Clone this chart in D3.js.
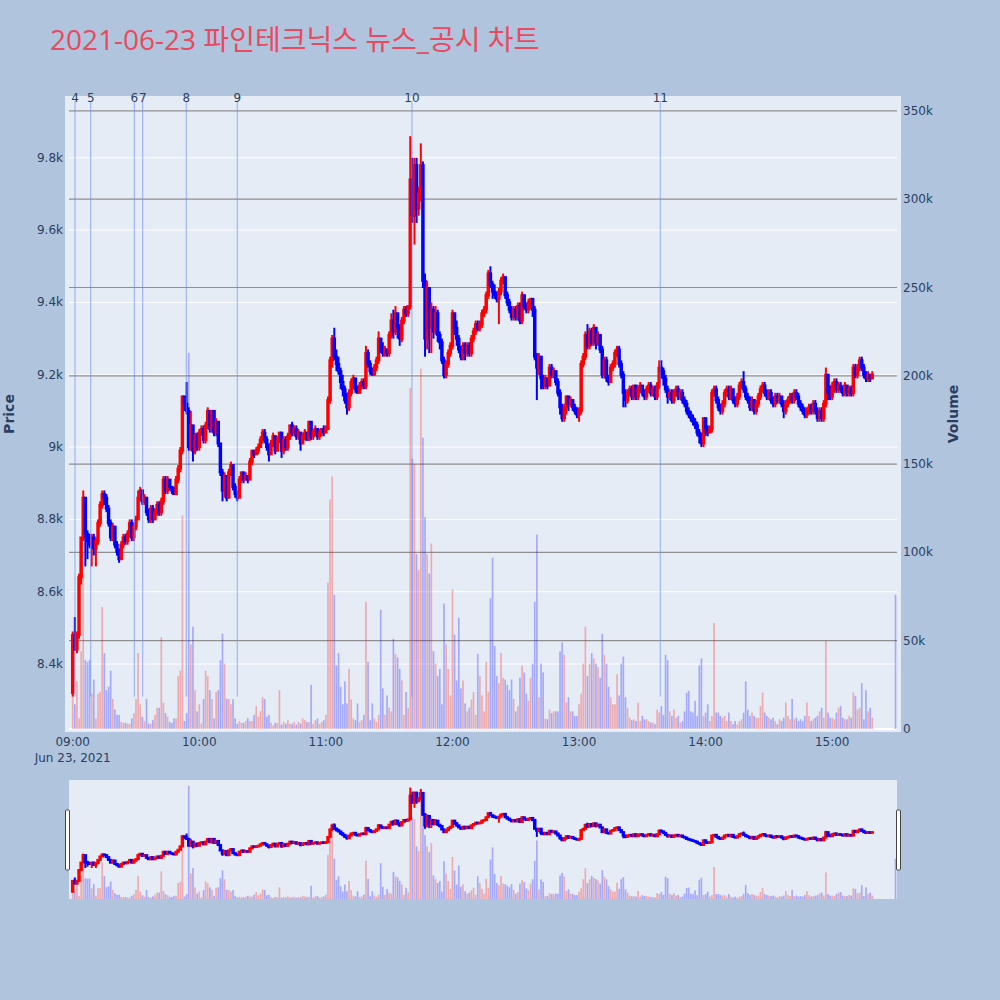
<!DOCTYPE html>
<html><head><meta charset="utf-8">
<script src="https://cdn.jsdelivr.net/npm/d3@7"></script>
<style>body{margin:0;background:#b0c4de;}svg{display:block;}</style>
</head><body>
<svg id="chart" width="1000" height="1000"></svg>
<script>
// ---------------- data ----------------
const title = "2021-06-23 파인테크닉스 뉴스_공시 차트";
const sessionDate = [2021, 5, 23];
// minute offsets from 09:00 (continuous session 09:00-15:19, closing auction 15:30)
const minuteOffsets = d3.range(0, 380).concat([390]);

const openP = [
8320,8480,8440,8480,8640,8750,8860,8760,8740,8730,
8750,8720,8740,8790,8840,8870,8860,8830,8790,8750,
8780,8730,8710,8690,8730,8750,8740,8760,8790,8750,
8780,8800,8860,8880,8850,8860,8820,8800,8830,8800,
8820,8840,8820,8850,8910,8880,8910,8890,8880,8870,
8910,8940,8990,9140,9120,9100,9000,9060,8990,9030,
9000,9040,9050,9020,9060,9100,9050,9100,9040,9070,
9010,8930,8880,8920,8860,8930,8950,8890,8870,8860,
8910,8930,8910,8920,8910,8960,8990,8980,8990,9000,
9020,9040,9020,9000,8980,9010,9030,8990,9020,9040,
8990,9020,9000,9030,9060,9040,9050,9030,9040,9010,
9030,9040,9020,9070,9030,9040,9050,9030,9040,9050,
9040,9050,9130,9240,9300,9250,9230,9210,9180,9160,
9130,9110,9150,9180,9190,9160,9150,9170,9180,9170,
9260,9230,9210,9200,9220,9240,9300,9270,9260,9270,
9260,9310,9350,9320,9370,9330,9300,9350,9380,9370,
9390,9740,9640,9780,9660,9700,9780,9460,9300,9440,
9330,9380,9320,9370,9310,9290,9240,9200,9230,9260,
9280,9370,9330,9300,9270,9250,9280,9260,9280,9260,
9300,9320,9340,9330,9340,9370,9380,9420,9480,9450,
9430,9420,9410,9430,9460,9470,9420,9400,9380,9360,
9380,9360,9390,9350,9420,9390,9380,9400,9410,9380,
9250,9220,9250,9190,9170,9190,9170,9220,9200,9210,
9180,9150,9110,9080,9110,9140,9120,9130,9110,9100,
9090,9100,9230,9250,9310,9280,9320,9290,9330,9290,
9310,9270,9200,9240,9190,9180,9220,9230,9260,9270,
9230,9200,9150,9130,9150,9160,9140,9170,9140,9160,
9170,9150,9140,9160,9170,9150,9160,9140,9170,9220,
9210,9190,9160,9140,9150,9130,9150,9160,9140,9150,
9130,9120,9100,9090,9080,9070,9060,9040,9030,9010,
9080,9050,9040,9050,9150,9160,9130,9110,9100,9120,
9150,9160,9140,9160,9130,9120,9140,9170,9180,9160,
9140,9130,9110,9130,9100,9120,9140,9160,9170,9150,
9140,9150,9130,9120,9140,9130,9140,9120,9100,9120,
9130,9140,9130,9150,9140,9120,9110,9100,9090,9100,
9110,9100,9120,9100,9080,9100,9080,9120,9200,9150,
9140,9170,9180,9160,9170,9160,9150,9170,9150,9160,
9150,9220,9200,9220,9240,9220,9200,9190,9200,9190,
9180];
const highP = [
8490,8530,8490,8650,8750,8880,8860,8770,8760,8760,
8760,8750,8800,8850,8880,8880,8870,8840,8800,8790,
8780,8740,8720,8740,8760,8760,8770,8800,8800,8790,
8810,8880,8890,8880,8870,8860,8830,8840,8840,8830,
8850,8850,8860,8920,8920,8920,8910,8890,8890,8920,
8950,9000,9140,9140,9180,9110,9100,9060,9040,9040,
9050,9060,9060,9070,9110,9100,9100,9100,9080,9070,
9010,8940,8930,8920,8940,8960,8950,8900,8880,8920,
8930,8930,8930,8920,8970,8990,8990,9000,9010,9030,
9050,9050,9030,9010,9020,9040,9030,9030,9040,9040,
9030,9030,9040,9060,9070,9060,9060,9050,9040,9040,
9050,9040,9070,9070,9050,9060,9050,9050,9050,9060,
9060,9140,9250,9310,9330,9270,9250,9220,9200,9170,
9150,9160,9190,9200,9190,9170,9180,9190,9190,9280,
9270,9240,9220,9230,9250,9320,9300,9290,9280,9270,
9320,9370,9380,9390,9370,9340,9360,9390,9390,9390,
9860,9800,9800,9800,9720,9840,9790,9480,9460,9440,
9400,9390,9390,9380,9320,9300,9250,9240,9270,9290,
9380,9370,9350,9310,9280,9290,9290,9290,9290,9310,
9330,9350,9350,9350,9380,9390,9430,9490,9500,9460,
9450,9430,9440,9470,9480,9470,9430,9410,9390,9390,
9390,9400,9400,9430,9420,9400,9410,9410,9410,9390,
9260,9260,9250,9200,9200,9190,9230,9230,9220,9210,
9190,9160,9120,9120,9140,9140,9140,9130,9120,9110,
9110,9240,9260,9320,9340,9330,9330,9340,9330,9320,
9310,9280,9250,9250,9200,9230,9240,9270,9280,9280,
9240,9210,9160,9160,9170,9170,9170,9170,9170,9180,
9170,9160,9170,9180,9180,9170,9170,9180,9240,9240,
9220,9200,9170,9160,9160,9160,9170,9170,9160,9160,
9140,9130,9110,9100,9090,9080,9070,9050,9040,9080,
9080,9060,9060,9160,9170,9170,9140,9120,9130,9160,
9170,9170,9170,9160,9140,9150,9180,9190,9210,9170,
9150,9140,9140,9130,9130,9150,9170,9180,9180,9160,
9160,9160,9140,9150,9150,9150,9140,9130,9130,9140,
9150,9150,9160,9160,9150,9130,9120,9110,9110,9120,
9120,9130,9130,9110,9110,9110,9130,9220,9200,9170,
9180,9190,9190,9180,9180,9170,9180,9170,9170,9170,
9230,9230,9230,9250,9250,9230,9210,9210,9200,9210,
9180];
const lowP = [
8310,8440,8430,8470,8620,8740,8670,8690,8720,8670,
8700,8670,8730,8780,8830,8840,8820,8780,8740,8740,
8720,8700,8680,8690,8720,8730,8730,8750,8740,8740,
8770,8800,8850,8840,8840,8810,8790,8790,8790,8800,
8810,8810,8810,8840,8870,8870,8880,8870,8870,8870,
8900,8930,8980,9100,9090,8990,8990,8960,8980,8990,
8990,9030,9010,9010,9050,9040,9040,9030,9030,9000,
8920,8850,8860,8850,8860,8920,8880,8860,8850,8860,
8900,8900,8910,8900,8910,8950,8970,8980,8980,9000,
9010,9010,8990,8960,8980,9000,8980,8990,9010,8970,
8980,8990,8990,9020,9030,9030,9020,9020,8990,9010,
9020,9020,9020,9020,9020,9030,9020,9020,9030,9030,
9040,9050,9120,9220,9240,9210,9200,9160,9140,9120,
9090,9100,9140,9160,9150,9150,9150,9160,9160,9160,
9220,9200,9200,9200,9210,9230,9260,9250,9250,9250,
9250,9300,9300,9310,9300,9280,9290,9340,9360,9360,
9380,9620,9560,9620,9640,9680,9440,9250,9270,9260,
9260,9300,9310,9290,9270,9230,9190,9190,9220,9250,
9270,9310,9280,9260,9240,9240,9240,9250,9250,9250,
9290,9310,9320,9320,9330,9360,9370,9410,9440,9410,
9410,9400,9340,9420,9450,9410,9390,9370,9350,9350,
9350,9350,9340,9340,9380,9370,9370,9380,9360,9240,
9130,9200,9160,9160,9160,9160,9170,9190,9190,9170,
9140,9090,9070,9070,9090,9100,9110,9100,9090,9080,
9070,9090,9220,9240,9270,9270,9280,9280,9270,9280,
9260,9190,9190,9180,9170,9180,9210,9220,9250,9220,
9190,9110,9110,9120,9140,9130,9130,9130,9130,9150,
9140,9130,9130,9150,9140,9140,9130,9130,9160,9190,
9170,9150,9120,9130,9120,9120,9140,9130,9130,9120,
9110,9090,9080,9070,9060,9050,9030,9010,9000,9000,
9030,9030,9040,9040,9140,9120,9100,9090,9090,9110,
9140,9130,9130,9120,9110,9110,9130,9160,9150,9130,
9120,9100,9100,9090,9090,9110,9130,9150,9140,9130,
9130,9120,9110,9110,9120,9120,9110,9080,9090,9110,
9120,9120,9120,9130,9110,9100,9090,9080,9080,9090,
9090,9090,9090,9070,9070,9070,9070,9110,9130,9130,
9130,9150,9150,9150,9150,9140,9140,9140,9140,9140,
9140,9190,9190,9210,9210,9190,9180,9180,9180,9190,
9180];
const closeP = [
8480,8440,8480,8640,8750,8860,8760,8740,8730,8750,
8720,8740,8790,8840,8870,8860,8830,8790,8750,8780,
8730,8710,8690,8730,8750,8740,8760,8790,8750,8780,
8800,8860,8880,8850,8860,8820,8800,8830,8800,8820,
8840,8820,8850,8910,8880,8910,8890,8880,8870,8910,
8940,8990,9140,9120,9100,9000,9060,8990,9030,9000,
9040,9050,9020,9060,9100,9050,9100,9040,9070,9010,
8930,8880,8920,8860,8930,8950,8890,8870,8860,8910,
8930,8910,8920,8910,8960,8990,8980,8990,9000,9020,
9040,9020,9000,8980,9010,9030,8990,9020,9040,8990,
9020,9000,9030,9060,9040,9050,9030,9040,9010,9030,
9040,9020,9070,9030,9040,9050,9030,9040,9050,9040,
9050,9130,9240,9300,9250,9230,9210,9180,9160,9130,
9110,9150,9180,9190,9160,9150,9170,9180,9170,9260,
9230,9210,9200,9220,9240,9300,9270,9260,9270,9260,
9310,9350,9320,9370,9330,9300,9350,9380,9370,9390,
9740,9640,9780,9660,9700,9780,9460,9300,9440,9330,
9380,9320,9370,9310,9290,9240,9200,9230,9260,9280,
9370,9330,9300,9270,9250,9280,9260,9280,9260,9300,
9320,9340,9330,9340,9370,9380,9420,9480,9450,9430,
9420,9410,9430,9460,9470,9420,9400,9380,9360,9380,
9360,9390,9350,9420,9390,9380,9400,9410,9380,9250,
9220,9250,9190,9170,9190,9170,9220,9200,9210,9180,
9150,9110,9080,9110,9140,9120,9130,9110,9100,9090,
9100,9230,9250,9310,9280,9320,9290,9330,9290,9310,
9270,9200,9240,9190,9180,9220,9230,9260,9270,9230,
9200,9150,9130,9150,9160,9140,9170,9140,9160,9170,
9150,9140,9160,9170,9150,9160,9140,9170,9220,9210,
9190,9160,9140,9150,9130,9150,9160,9140,9150,9130,
9120,9100,9090,9080,9070,9060,9040,9030,9010,9080,
9050,9040,9050,9150,9160,9130,9110,9100,9120,9150,
9160,9140,9160,9130,9120,9140,9170,9180,9160,9140,
9130,9110,9130,9100,9120,9140,9160,9170,9150,9140,
9150,9130,9120,9140,9130,9140,9120,9100,9120,9130,
9140,9130,9150,9140,9120,9110,9100,9090,9100,9110,
9100,9120,9100,9080,9100,9080,9120,9200,9150,9140,
9170,9180,9160,9170,9160,9150,9170,9150,9160,9150,
9220,9200,9220,9240,9220,9200,9190,9200,9190,9200,
9180];
const volumes = [
34000,14000,27000,6000,44000,87000,39000,38000,39000,20000,
28000,6000,20000,21000,69000,43000,22000,24000,33000,17000,
11000,8000,8000,4000,3500,3500,3000,3000,6000,9000,
17000,43000,14000,7000,4500,17000,3000,3000,5000,8000,
12000,12000,52000,15000,9000,7000,4000,3500,6000,6000,
30000,33000,121000,4500,9000,213000,48000,58000,22000,10000,
14000,3000,17000,33000,30000,22000,17000,6000,21000,22000,
39000,54000,37000,17000,17000,14000,17000,6000,3000,4500,
3500,3500,4500,6000,4500,4500,8000,13000,7000,10000,
18000,17000,7000,8000,3500,2000,3500,3500,22000,2500,
4000,3000,5000,3000,3000,4000,2500,4000,3000,6000,
5000,4000,4000,25000,3000,5000,6000,3000,4000,5000,
8000,83000,130000,143000,76000,36000,43000,24000,14000,27000,
14500,34000,16700,6000,5000,14500,4000,5000,8000,72000,
38000,5000,14500,6000,4000,8000,67500,23000,8000,19000,
12000,10000,51000,42600,40500,34000,27500,8000,21000,12000,
193000,153000,150000,99000,90000,204000,165000,120000,99000,88000,
105000,44000,37000,30000,34000,14000,71000,48000,34000,19000,
79000,53500,27500,63000,23000,27500,14500,10000,12000,16700,
21000,8000,42600,30000,19000,10000,38000,21000,74000,97000,
47000,30000,26000,43000,29000,28000,25000,22000,28000,17000,
10000,13000,29000,36000,32000,20000,16000,29000,37000,72000,
110000,18000,37000,32000,6000,5500,11000,9000,10000,10000,
10000,44000,49000,42000,15000,18000,10000,10000,7400,7400,
14000,20000,37000,58000,30000,37000,43000,40000,37000,35000,
29000,54000,42000,37000,24000,18000,14000,14000,31000,19000,
37000,41000,18000,12000,6400,5000,5500,4500,15000,4500,
7400,5500,5500,4500,3600,3600,2700,11000,9300,13000,
8000,42000,39000,10000,7400,11000,6400,7400,3600,4500,
10000,20600,21600,10000,9300,16000,7400,36000,40000,7400,
9300,14000,4500,7400,60000,9300,9300,7400,6400,7400,
4500,9300,4500,2700,4500,2500,4500,5500,9300,27000,
11000,7400,9300,7400,6400,6400,13000,20600,9300,7400,
6400,5500,6400,4500,2700,5500,4500,6400,15000,7400,
5500,17000,5500,6400,4500,5500,4500,7400,15000,7400,
4500,5500,6400,7400,10000,12000,6400,50000,9300,6400,
6400,5500,9300,12000,13000,6400,5500,5500,7400,6400,
20600,18800,11000,12000,26000,5500,22000,10000,12000,6400,
76000];

const newsLabels = ["4","5","6","7","8","9","10","11"];
const newsTimes = ["09:01:05","09:08:32","09:29:12","09:33:11","09:53:50","10:18:00","11:40:48","13:38:30"];

const priceTicks = [8400,8600,8800,9000,9200,9400,9600,9800];
const volumeTicks = [0,50000,100000,150000,200000,250000,300000,350000];
const hourTicks = ["09:00","10:00","11:00","12:00","13:00","14:00","15:00"];

// ---------------- helpers ----------------
const [YY, MM, DD] = sessionDate;
const atTime = s => { const p = s.split(":").map(Number); return new Date(YY, MM, DD, p[0], p[1], p[2] || 0); };
const base = atTime("09:00");
const bars = minuteOffsets.map((m, i) => ({
  t: new Date(+base + m * 60000), o: openP[i], h: highP[i], l: lowP[i], c: closeP[i], v: volumes[i]
}));

const RED = "#ff0000", BLUE = "#0000ff";
const TXT = "#2a3f5f";
const TFONT = "'Open Sans', 'Noto Sans CJK KR', sans-serif";
const FONT = "'DejaVu Sans', Verdana, sans-serif";

const svg = d3.select("#chart");
svg.append("rect").attr("width", 1000).attr("height", 1000).attr("fill", "#b0c4de");

// title
svg.append("text").attr("x", 50).attr("y", 50).attr("font-family", TFONT)
  .attr("font-size", 28).attr("fill", "#e84a5f").text(title);

// main plot geometry
const P = { l: 65, r: 901, t: 96, b: 732 };
const x = d3.scaleTime().domain([atTime("08:56:21"), atTime("15:32:36")]).range([P.l, P.r]);
const yP = d3.scaleLinear().domain([8212, 9971]).range([P.b, P.t]);
const yV = d3.scaleLinear().domain([0, 350000]).range([729, 110.9]);

svg.append("rect").attr("x", P.l).attr("y", P.t).attr("width", P.r - P.l).attr("height", P.b - P.t).attr("fill", "#e5ecf6");

const gx0 = 69, gx1 = 897;
svg.append("g").selectAll("line").data(priceTicks).join("line")
  .attr("x1", gx0).attr("x2", gx1).attr("y1", d => yP(d)).attr("y2", d => yP(d))
  .attr("stroke", "#ffffff").attr("stroke-width", 1);
svg.append("g").selectAll("line").data(volumeTicks.filter(d => d > 0)).join("line")
  .attr("x1", gx0).attr("x2", gx1).attr("y1", d => yV(d)).attr("y2", d => yV(d))
  .attr("stroke", "#8f8f8f").attr("stroke-width", 1.2);
svg.append("line").attr("x1", gx0).attr("x2", gx1).attr("y1", yV(0)).attr("y2", yV(0))
  .attr("stroke", "#ffffff").attr("stroke-width", 2);

const minuteW = x(new Date(+base + 60000)) - x(base);

function drawVolume(g, xs, ys) {
  g.selectAll("rect").data(bars).join("rect")
    .attr("x", d => xs(d.t) - minuteW * 0.4).attr("width", minuteW * 0.8)
    .attr("y", d => ys(d.v)).attr("height", d => ys(0) - ys(d.v))
    .attr("fill", d => d.c > d.o ? RED : BLUE).attr("fill-opacity", 0.28);
}
function drawCandles(g, xs, ys) {
  const c = g.selectAll("g").data(bars).join("g")
    .attr("stroke", d => d.c > d.o ? RED : BLUE)
    .attr("fill", d => d.c > d.o ? RED : BLUE);
  c.append("line").attr("x1", d => xs(d.t)).attr("x2", d => xs(d.t))
    .attr("y1", d => ys(d.h)).attr("y2", d => ys(d.l)).attr("stroke-width", 2);
  c.append("rect").attr("x", d => xs(d.t) - minuteW * 0.35).attr("width", minuteW * 0.7)
    .attr("y", d => ys(Math.max(d.o, d.c))).attr("height", d => Math.abs(ys(d.o) - ys(d.c)))
    .attr("stroke-width", 2).attr("fill-opacity", 0.5);
}

drawVolume(svg.append("g"), x, yV);
drawCandles(svg.append("g"), x, yP);

// news lines
const lowest = d3.min(bars, d => d.l);
const ng = svg.append("g");
newsTimes.forEach((s, i) => {
  const nx = x(atTime(s));
  ng.append("line").attr("x1", nx).attr("x2", nx).attr("y1", 101).attr("y2", yP(lowest))
    .attr("stroke", "#6d8ff0").attr("stroke-opacity", 0.7).attr("stroke-width", 1);
  ng.append("text").attr("x", nx).attr("y", 101.5).attr("text-anchor", "middle")
    .attr("font-family", FONT).attr("font-size", 12).attr("fill", TXT).text(newsLabels[i]);
});

// axes labels
const fmt = d3.format("~s");
svg.append("g").selectAll("text").data(priceTicks).join("text")
  .attr("x", 63).attr("y", d => yP(d) + 4).attr("text-anchor", "end")
  .attr("font-family", FONT).attr("font-size", 12).attr("fill", TXT).text(d => fmt(d));
svg.append("g").selectAll("text").data(volumeTicks).join("text")
  .attr("x", 903).attr("y", d => yV(d) + 4).attr("text-anchor", "start")
  .attr("font-family", FONT).attr("font-size", 12).attr("fill", TXT).text(d => fmt(d));
svg.append("g").selectAll("text").data(hourTicks).join("text")
  .attr("x", d => x(atTime(d))).attr("y", 746).attr("text-anchor", "middle")
  .attr("font-family", FONT).attr("font-size", 12).attr("fill", TXT).text(d => d);
svg.append("text").attr("x", x(atTime(hourTicks[0]))).attr("y", 762).attr("text-anchor", "middle")
  .attr("font-family", FONT).attr("font-size", 12).attr("fill", TXT).text("Jun 23, 2021");

svg.append("text").attr("transform", "translate(14,414) rotate(-90)").attr("text-anchor", "middle")
  .attr("font-family", FONT).attr("font-size", 14).attr("font-weight", "bold").attr("fill", TXT).text("Price");
svg.append("text").attr("transform", "translate(958,414) rotate(-90)").attr("text-anchor", "middle")
  .attr("font-family", FONT).attr("font-size", 14).attr("font-weight", "bold").attr("fill", TXT).text("Volume");

// range slider
const S = { l: 69, r: 897, t: 780, b: 899 };
svg.append("rect").attr("x", S.l).attr("y", S.t).attr("width", S.r - S.l).attr("height", S.b - S.t).attr("fill", "#e5ecf6");
svg.append("clipPath").attr("id", "sclip").append("rect")
  .attr("x", S.l).attr("y", S.t).attr("width", S.r - S.l).attr("height", S.b - S.t);
const yP2 = d3.scaleLinear().domain(yP.domain()).range([S.b, S.t]);
const yV2 = d3.scaleLinear().domain([0, d3.max(bars, d => d.v) * 1.05]).range([S.b, S.t]);
const sg = svg.append("g").attr("clip-path", "url(#sclip)");
drawVolume(sg.append("g"), x, yV2);
drawCandles(sg.append("g"), x, yP2);
[65.5, 896.5].forEach(hx => {
  svg.append("rect").attr("x", hx).attr("y", 810).attr("width", 4).attr("height", 60)
    .attr("rx", 1).attr("fill", "#ffffff").attr("stroke", "#444").attr("stroke-width", 1);
});
</script>
</body></html>
